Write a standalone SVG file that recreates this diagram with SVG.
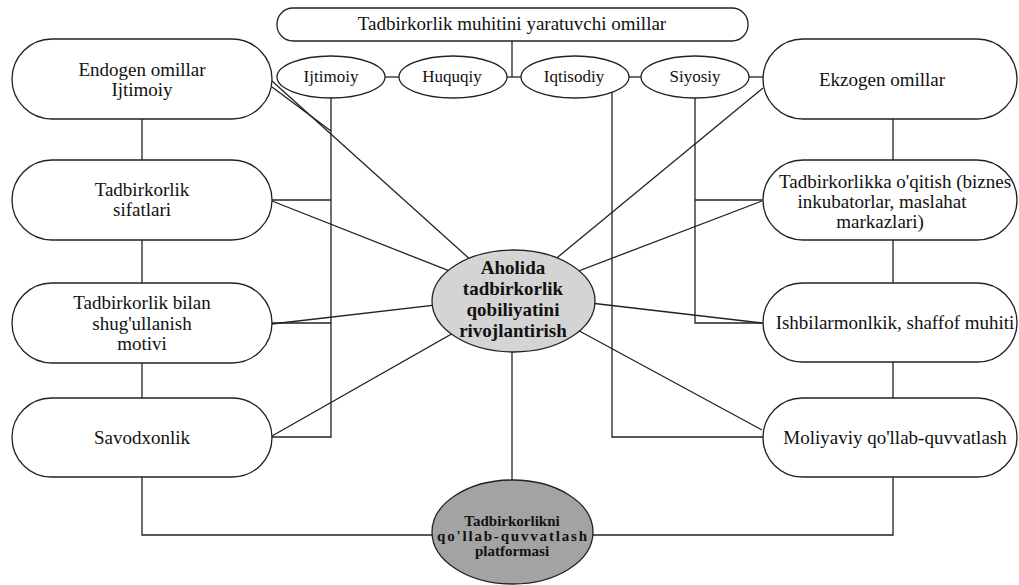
<svg xmlns="http://www.w3.org/2000/svg" width="1019" height="585" viewBox="0 0 1019 585">
<style>
.ln{stroke:#222;stroke-width:1.3;fill:none}
.bx{fill:#fff;stroke:#222;stroke-width:1.3}
text{font-family:'Liberation Serif','Times New Roman',serif;fill:#111;text-anchor:middle}
.t{font-size:19px}
.ts{font-size:17px}
.tc{font-size:19px;font-weight:bold}
.tp{font-size:15px;font-weight:bold}
</style>
<rect width="1019" height="585" fill="#fff"/>
<g id="connectors">
<line class="ln" x1="512" y1="41" x2="512" y2="77"/>
<line class="ln" x1="385" y1="77" x2="399" y2="77"/>
<line class="ln" x1="507" y1="77" x2="521" y2="77"/>
<line class="ln" x1="628" y1="77" x2="641" y2="77"/>
<line class="ln" x1="748" y1="77" x2="763" y2="77"/>
<line class="ln" x1="142" y1="119" x2="142" y2="160"/>
<line class="ln" x1="142" y1="240" x2="142" y2="283"/>
<line class="ln" x1="142" y1="363" x2="142" y2="398"/>
<polyline class="ln" points="142,477 142,535 433,535"/>
<polyline class="ln" points="331,97 331,437 272,437"/>
<line class="ln" x1="272" y1="200" x2="331" y2="200"/>
<line class="ln" x1="272" y1="323" x2="331" y2="323"/>
<line class="ln" x1="272" y1="87" x2="331" y2="131"/>
<line class="ln" x1="272" y1="81" x2="513" y2="298"/>
<line class="ln" x1="272" y1="201" x2="513" y2="296"/>
<line class="ln" x1="272" y1="324" x2="513" y2="296"/>
<line class="ln" x1="272" y1="436" x2="513" y2="299"/>
<polyline class="ln" points="612,92 612,437 763,437"/>
<polyline class="ln" points="695,97 695,323 763,323"/>
<line class="ln" x1="695" y1="200" x2="763" y2="200"/>
<line class="ln" x1="763" y1="88" x2="513" y2="294"/>
<line class="ln" x1="762" y1="201" x2="513" y2="296"/>
<line class="ln" x1="762" y1="323" x2="513" y2="294"/>
<line class="ln" x1="762" y1="430" x2="513" y2="295"/>
<line class="ln" x1="893" y1="119" x2="893" y2="160"/>
<line class="ln" x1="893" y1="240" x2="893" y2="283"/>
<line class="ln" x1="893" y1="362" x2="893" y2="398"/>
<polyline class="ln" points="893,477 893,535 592,535"/>
<line class="ln" x1="512" y1="352" x2="512" y2="480"/>
</g>
<g id="banner">
<rect class="bx" x="277" y="8" width="471" height="33" rx="16" ry="16"/>
<text class="t" x="512" y="30">Tadbirkorlik muhitini yaratuvchi omillar</text>
</g>
<g id="ijtimoiy">
<ellipse class="bx" cx="331" cy="77" rx="54" ry="21"/>
<text class="ts" x="331" y="82">Ijtimoiy</text>
</g>
<g id="huquqiy">
<ellipse class="bx" cx="453" cy="77" rx="54" ry="21"/>
<text class="ts" x="452" y="82">Huquqiy</text>
</g>
<g id="iqtisodiy">
<ellipse class="bx" cx="575" cy="77" rx="54" ry="21"/>
<text class="ts" x="574" y="82">Iqtisodiy</text>
</g>
<g id="siyosiy">
<ellipse class="bx" cx="695" cy="77" rx="54" ry="21"/>
<text class="ts" x="695" y="82">Siyosiy</text>
</g>
<g id="endogen">
<rect class="bx" x="12" y="39" width="260" height="80" rx="40" ry="40"/>
<text class="t" x="142" y="76">Endogen omillar</text>
<text class="t" x="142" y="95.5">Ijtimoiy</text>
</g>
<g id="sifatlari">
<rect class="bx" x="12" y="160" width="260" height="80" rx="40" ry="40"/>
<text class="t" x="142" y="196">Tadbirkorlik</text>
<text class="t" x="142" y="216">sifatlari</text>
</g>
<g id="motivi">
<rect class="bx" x="12" y="283" width="260" height="80" rx="40" ry="40"/>
<text class="t" x="142" y="309">Tadbirkorlik bilan</text>
<text class="t" x="142" y="329.5">shug'ullanish</text>
<text class="t" x="142" y="350">motivi</text>
</g>
<g id="savodxonlik">
<rect class="bx" x="12" y="398" width="260" height="79" rx="39.5" ry="39.5"/>
<text class="t" x="142" y="443.5">Savodxonlik</text>
</g>
<g id="ekzogen">
<rect class="bx" x="763" y="39" width="254" height="80" rx="40" ry="40"/>
<text class="t" x="882" y="85.5">Ekzogen omillar</text>
</g>
<g id="oqitish">
<rect class="bx" x="763" y="160" width="254" height="80" rx="40" ry="40"/>
<text class="t" x="895" y="188">Tadbirkorlikka o'qitish (biznes</text>
<text class="t" x="882" y="208">inkubatorlar, maslahat</text>
<text class="t" x="880" y="228">markazlari)</text>
</g>
<g id="muhit">
<rect class="bx" x="763" y="283" width="254" height="79" rx="39.5" ry="39.5"/>
<text class="t" x="895" y="329">Ishbilarmonlkik, shaffof muhiti</text>
</g>
<g id="moliyaviy">
<rect class="bx" x="763" y="398" width="254" height="79" rx="39.5" ry="39.5"/>
<text class="t" x="895" y="444">Moliyaviy qo'llab-quvvatlash</text>
</g>
<g id="center">
<ellipse cx="513.5" cy="301" rx="81.5" ry="51" fill="#d4d4d4" stroke="#222" stroke-width="1.3"/>
<text class="tc" x="513" y="274">Aholida</text>
<text class="tc" x="513" y="295">tadbirkorlik</text>
<text class="tc" x="513" y="316">qobiliyatini</text>
<text class="tc" x="513" y="337">rivojlantirish</text>
</g>
<g id="platform">
<ellipse cx="512.5" cy="532" rx="80.5" ry="52" fill="#a3a3a3" stroke="#222" stroke-width="1.3"/>
<text class="tp" x="512" y="526">Tadbirkorlikni</text>
<text class="tp" x="512" y="541" textLength="150" lengthAdjust="spacing">qo'llab-quvvatlash</text>
<text class="tp" x="512" y="556">platformasi</text>
</g>
</svg>
